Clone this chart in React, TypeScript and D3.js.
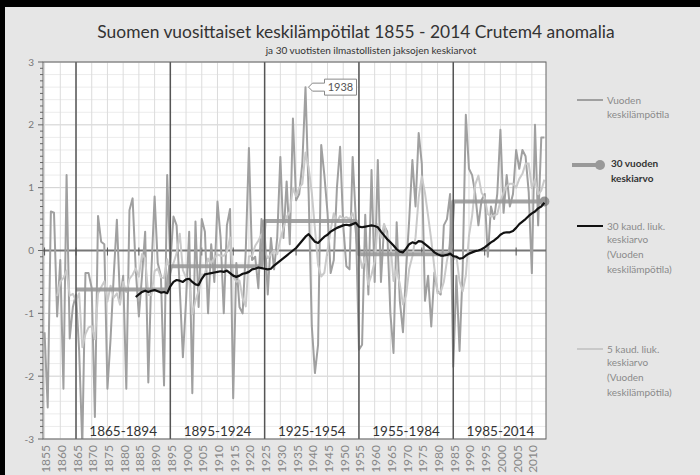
import React from 'react';
import * as d3 from 'd3';

// Suomen vuosikeskilämpötilat (Crutem4 anomalia), luettu kuvasta
const FIRST_YEAR = 1855;
const annual = [
  -1.3, -2.5, 0.62, 0.6, -1.05, -0.15, -2.2, 1.2, -1.4, -0.9,
  -0.7, -1.6, -3.1, -0.36, -0.36, -0.6, -2.65, 0.55, 0.14, 0.1,
  -2.2, -1.4, -0.4, 0.49, -0.8, -0.4, -2.2, 0.64, 0.83, -0.3,
  -1.05, -0.4, 0.3, -2.1, -0.3, 0.86, -0.2, -0.4, -2.15, 1.2,
  -0.2, 0.54, 0.4, -0.6, -1.7, -0.8, 0.3, -2.27, 0.46, -0.9,
  0.5, 0.3, -1.0, 0.1, -0.5, 0.78, 0.2, -1.0, 0.4, 0.66,
  -2.35, -0.2, -0.9, -1.0, 0.0, 1.63, -0.15, -0.1, -0.6, 0.5,
  0.3, -0.7, 0.2, -0.3, 0.2, 1.49, 0.2, 1.1, 0.1, 2.1,
  0.8, 0.9, 1.4, 2.6, 0.9, -1.2, -1.95, -1.5, 1.68, 1.2,
  0.6, -0.36, -0.15, 1.0, 1.65, 0.4, -0.25, -0.3, 1.49, 0.5,
  -1.58, -1.5, 0.57, -0.7, 1.28, -0.5, 1.44, -0.5, 0.4, 0.3,
  -1.0, -1.63, 0.45, -0.8, -1.3, -0.3, 0.5, 1.44, 0.7, 1.87,
  1.38, -0.8, -0.4, -1.21, -0.35, -0.65, -0.7, 0.4, 0.5, 0.9,
  -1.85, -0.4, -1.6, -0.3, 2.16, 1.3, 1.2, 0.9, 0.4, 0.8,
  0.9, -0.1, 0.7, 0.5, 0.9, 1.92, 0.6, 1.2, 0.7, 0.9,
  1.6, 1.3, 1.6, 1.5, 0.93, -0.36, 2.0, 0.4, 1.8, 1.8,
];
const LAST_YEAR = FIRST_YEAR + annual.length - 1;

// 30 kauden liukuva keskiarvo (musta viiva), alkaa 1884
const MA30_START = 1884;
const ma30 = [
  -0.74, -0.7, -0.66, -0.64, -0.66, -0.64, -0.63, -0.65, -0.67, -0.66, -0.68,
  -0.57, -0.5, -0.47, -0.48, -0.5, -0.46, -0.45, -0.5, -0.54, -0.55,
  -0.45, -0.38, -0.37, -0.36, -0.35, -0.34, -0.33, -0.34, -0.32, -0.36,
  -0.4, -0.42, -0.4, -0.37, -0.36, -0.34, -0.3, -0.29, -0.27, -0.28,
  -0.29, -0.3, -0.29, -0.24, -0.2, -0.16, -0.12, -0.08, -0.04, 0.0,
  0.04, 0.1, 0.16, 0.22, 0.26, 0.2, 0.14, 0.12, 0.17, 0.22,
  0.25, 0.3, 0.33, 0.36, 0.38, 0.4, 0.41, 0.4, 0.42, 0.44,
  0.38, 0.37, 0.38, 0.39, 0.4, 0.39, 0.37, 0.3, 0.24, 0.18,
  0.13, 0.08, 0.02, -0.02, -0.03, 0.03, 0.1, 0.13, 0.11, 0.15,
  0.14, 0.1, 0.06, 0.02, -0.03, -0.06, -0.08, -0.08, -0.07, -0.05,
  -0.09, -0.1, -0.13, -0.12, -0.08, -0.05, -0.03, -0.01, 0.0, 0.02,
  0.05, 0.09, 0.13, 0.16, 0.2, 0.25, 0.28, 0.29, 0.29, 0.31,
  0.36, 0.42, 0.46, 0.5, 0.55, 0.59, 0.62, 0.67, 0.7, 0.76,
];

// 30 vuoden ilmastojaksot
const periodLabels = ['1865-1894', '1895-1924', '1925-1954', '1955-1984', '1985-2014'];
const periodStarts = [1865, 1895, 1925, 1955, 1985];
const periodMeans = [-0.62, -0.25, 0.47, -0.06, 0.78];

const yTicks = [-3, -2, -1, 0, 1, 2, 3];
const highlightYear = 1938;

const W = 700;
const H = 475;
const P = { left: 43, right: 546, top: 62, bottom: 439 };
const FONT = 'Lato, "Open Sans", sans-serif';

export default function App() {
  const x = d3.scaleLinear().domain([FIRST_YEAR - 0.5, LAST_YEAR + 0.5]).range([P.left, P.right]);
  const y = d3.scaleLinear().domain([-3, 3]).range([P.bottom, P.top]);

  const line = d3.line<[number, number]>().x(d => x(d[0])).y(d => y(d[1]));

  const annualPts: [number, number][] = annual.map((v, i) => [FIRST_YEAR + i, v]);
  // Excel trendline: 5 kauden liukuva keskiarvo vuosisarjasta
  const ma5Pts: [number, number][] = annual
    .map((_, i) => (i < 4 ? null : [FIRST_YEAR + i, d3.mean(annual.slice(i - 4, i + 1)) as number]))
    .filter(Boolean) as [number, number][];
  const ma30Pts: [number, number][] = ma30.map((v, i) => [MA30_START + i, v]);
  const periodPts: [number, number][] = periodStarts.flatMap((s, i) => [
    [s, periodMeans[i]] as [number, number],
    [s + 29, periodMeans[i]] as [number, number],
  ]);

  const minorY = d3.range(-30, 31).map(v => v / 10);
  const gridY = d3.range(-15, 16).map(v => v / 5);
  const fiveYears = d3.range(FIRST_YEAR, LAST_YEAR + 1, 5);
  const tenYears = d3.range(FIRST_YEAR, LAST_YEAR + 1, 10);

  const hx = x(highlightYear) + 3;
  const hy = y(annual[highlightYear - FIRST_YEAR]);
  const bx = hx + 16;

  return (
    <svg width={W} height={H} style={{ position: 'absolute', left: 0, top: 0, display: 'block' }} fontFamily={FONT}>
      <defs>
        <clipPath id="plot">
          <rect x={P.left} y={P.top} width={P.right - P.left} height={P.bottom - P.top} />
        </clipPath>
      </defs>
      <rect x={0} y={0} width={W} height={H} fill="#000" />
      <rect x={5} y={7} width={W - 5} height={H - 7} fill="#e6e6e6" />

      <text x={356} y={38} textAnchor="middle" fontSize={17.4} fill="#333">
        Suomen vuosittaiset keskilämpötilat 1855 - 2014 Crutem4 anomalia
      </text>
      <text x={371} y={54} textAnchor="middle" fontSize={10} fill="#333">
        ja 30 vuotisten ilmastollisten jaksojen keskiarvot
      </text>

      <rect x={P.left} y={P.top} width={P.right - P.left} height={P.bottom - P.top} fill="#fff" />
      {gridY.map(v => (
        <line key={'g' + v} x1={P.left} x2={P.right} y1={y(v)} y2={y(v)}
          stroke={Number.isInteger(v) ? '#cfcfcf' : '#ececec'} strokeWidth={1} />
      ))}
      {fiveYears.map(yr => (
        <line key={'v' + yr} x1={x(yr)} x2={x(yr)} y1={P.top} y2={P.bottom} stroke="#dcdcdc" strokeWidth={1} />
      ))}

      <line x1={P.left} x2={P.right} y1={y(0)} y2={y(0)} stroke="#777" strokeWidth={2} />
      {tenYears.map(yr => (
        <line key={'t' + yr} x1={x(yr)} x2={x(yr)} y1={y(0) - 3} y2={y(0) + 5} stroke="#555" strokeWidth={1} />
      ))}

      <g clipPath="url(#plot)" fill="none" strokeLinejoin="round">
        <path d={line(annualPts) ?? ''} stroke="#a0a0a0" strokeWidth={2} />
        <path d={line(ma5Pts) ?? ''} stroke="#c9c9c9" strokeWidth={2} />
        <path d={line(periodPts) ?? ''} stroke="#999" strokeWidth={4} opacity={0.9} />
      </g>
      <circle cx={x(periodStarts[4] + 29)} cy={y(periodMeans[4])} r={5} fill="#999" />

      {periodStarts.map(s => (
        <line key={'p' + s} x1={x(s)} x2={x(s)} y1={P.top} y2={P.bottom} stroke="#555" strokeWidth={1.5} />
      ))}
      <path d={line(ma30Pts) ?? ''} fill="none" stroke="#111" strokeWidth={2.2} strokeLinejoin="round" />

      <rect x={P.left} y={P.top} width={P.right - P.left} height={P.bottom - P.top} fill="none" stroke="#666" strokeWidth={1} />

      {minorY.map(v => (
        <line key={'m' + v} x1={P.left - (Number.isInteger(v) ? 5 : 3)} x2={P.left} y1={y(v)} y2={y(v)} stroke="#666" strokeWidth={1} />
      ))}
      {yTicks.map(v => (
        <text key={'yl' + v} x={34} y={y(v) + 3.5} textAnchor="end" fontSize={10} fill="#777">{v}</text>
      ))}
      {fiveYears.map(yr => (
        <text key={'xl' + yr} transform={`translate(${x(yr) + 5.5},${P.bottom + 6}) rotate(-90)`}
          textAnchor="end" fontSize={12} fill="#888">{yr}</text>
      ))}

      {periodLabels.map((lbl, i) => (
        <text key={lbl} x={(x(periodStarts[i]) + x(periodStarts[i] + 30)) / 2} y={P.bottom - 3}
          textAnchor="middle" fontSize={13.5} fill="#333">{lbl}</text>
      ))}

      <path d={`M${bx},${hy - 8}H${bx + 32}V${hy + 8}H${bx}V${hy + 4}H${hx + 4}L${hx},${hy}L${hx + 4},${hy - 4}H${bx}Z`}
        fill="#fff" stroke="#888" strokeWidth={1} />
      <text x={bx + 16} y={hy + 4} textAnchor="middle" fontSize={11} fill="#555">{highlightYear}</text>

      <g fontSize={10}>
        <line x1={577} x2={603} y1={100} y2={100} stroke="#a0a0a0" strokeWidth={2} />
        <text x={607} y={103.5} fill="#8a8a8a">Vuoden</text>
        <text x={607} y={118} fill="#8a8a8a">keskilämpötila</text>

        <line x1={572} x2={600} y1={165} y2={165} stroke="#999" strokeWidth={4} />
        <circle cx={600} cy={165} r={5} fill="#999" />
        <text x={611} y={167} fill="#333" fontWeight="bold">30 vuoden</text>
        <text x={611} y={182} fill="#333" fontWeight="bold">keskiarvo</text>

        <line x1={577} x2={603} y1={226} y2={226} stroke="#111" strokeWidth={2} />
        <text x={607} y={229.5} fill="#8a8a8a">30 kaud. liuk.</text>
        <text x={607} y={243} fill="#8a8a8a">keskiarvo</text>
        <text x={607} y={258} fill="#8a8a8a">(Vuoden</text>
        <text x={607} y={273} fill="#8a8a8a">keskilämpötila)</text>

        <line x1={577} x2={603} y1={349} y2={349} stroke="#c9c9c9" strokeWidth={2} />
        <text x={607} y={352.5} fill="#8a8a8a">5 kaud. liuk.</text>
        <text x={607} y={366} fill="#8a8a8a">keskiarvo</text>
        <text x={607} y={381} fill="#8a8a8a">(Vuoden</text>
        <text x={607} y={396} fill="#8a8a8a">keskilämpötila)</text>
      </g>
    </svg>
  );
}
